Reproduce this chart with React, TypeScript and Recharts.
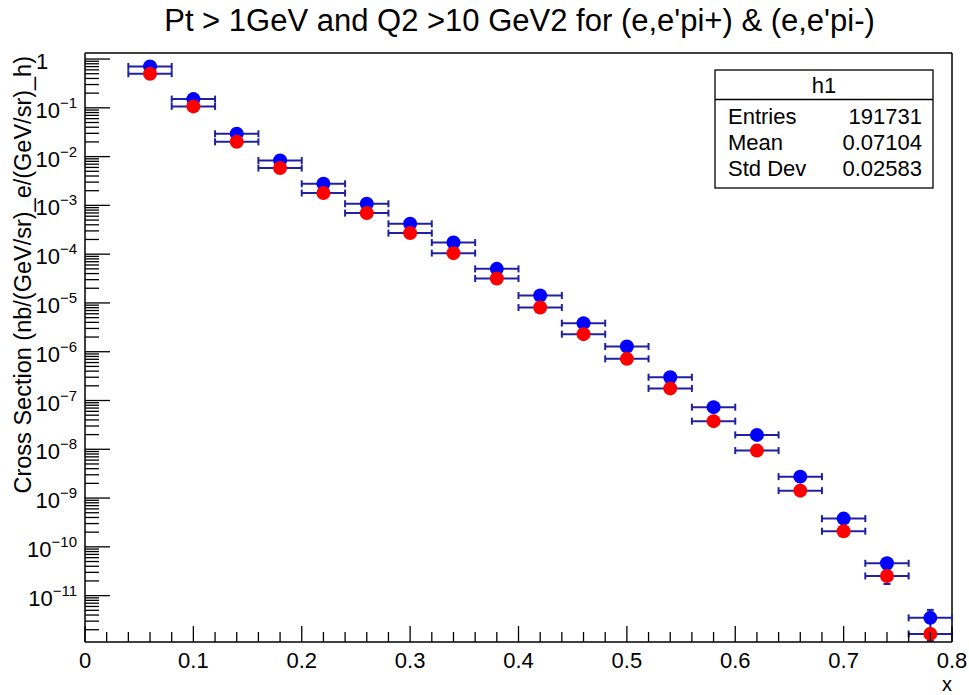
import { ScatterChart, Scatter, XAxis, YAxis, ErrorBar, ReferenceLine } from "recharts";

// bin centres in x, each bin is 0.04 wide
const binCenters = [
  0.06, 0.1, 0.14, 0.18, 0.22, 0.26, 0.3, 0.34, 0.38, 0.42, 0.46, 0.5, 0.54, 0.58, 0.62, 0.66, 0.7,
  0.74, 0.78,
];
const binHalfWidth = 0.02;

// (e,e'pi+) - blue
const piPlusXsec = [
  0.705, 0.151, 0.0294, 0.00832, 0.00277, 0.00108, 4.19e-4, 1.73e-4, 5.0e-5, 1.42e-5, 3.85e-6,
  1.28e-6, 3.0e-7, 7.3e-8, 1.97e-8, 2.75e-9, 3.79e-10, 4.6e-11, 3.5e-12,
];
const piPlusErr = [0, 0, 0, 0, 0, 0, 0, 0, 0, 0, 0, 0, 0, 0, 0, 0, 0, 0, 1.6e-12];

// (e,e'pi-) - red
const piMinusXsec = [
  0.5, 0.107, 0.0201, 0.00582, 0.00179, 6.95e-4, 2.7e-4, 1.05e-4, 3.16e-5, 8.05e-6, 2.29e-6,
  7.14e-7, 1.77e-7, 3.77e-8, 9.4e-9, 1.42e-9, 2.09e-10, 2.53e-11, 1.64e-12,
];
const piMinusErr = [0, 0, 0, 0, 0, 0, 0, 0, 0, 0, 0, 0, 0, 0, 0, 0, 0, 0.8e-11, 0.45e-12];

const xMajorTicks = [0, 0.1, 0.2, 0.3, 0.4, 0.5, 0.6, 0.7, 0.8];
const yMajorTicks = [1, 1e-1, 1e-2, 1e-3, 1e-4, 1e-5, 1e-6, 1e-7, 1e-8, 1e-9, 1e-10, 1e-11];

const statsLabels = ["Entries", "Mean", "Std Dev"];
const statsValues = ["191731", "0.07104", "0.02583"];

const Y_MIN = 1.12e-12;
const Y_MAX = 1.33;
const FONT = '"Liberation Sans", Arial, Helvetica, sans-serif';
const BAR_COLOR = "#2020a0";

const toRows = (ys: number[], errs: number[]) =>
  binCenters.map((x, i) => ({ x, y: ys[i], ex: binHalfWidth, ey: errs[i] }));

const plusRows = toRows(piPlusXsec, piPlusErr);
const minusRows = toRows(piMinusXsec, piMinusErr);

// minor ticks: every 0.02 on x, 2..9 x 10^n on y
const xTicks: number[] = [];
for (let i = 0; i <= 40; i++) xTicks.push(Math.round(i * 2) / 100);

const yTicks: number[] = [...yMajorTicks];
for (let e = 0; e >= -12; e--) {
  for (let m = 2; m <= 9; m++) {
    const v = m * Math.pow(10, e);
    if (v >= Y_MIN && v <= Y_MAX) yTicks.push(v);
  }
}

const isMajorY = (v: number) => {
  const l = Math.log10(v);
  return Math.abs(l - Math.round(l)) < 1e-6;
};

const YTick = (props: any) => {
  const { x, y, payload } = props;
  const v = payload.value;
  const major = isMajorY(v);
  const e = Math.round(Math.log10(v));
  return (
    <g>
      <line x1={x} x2={x + (major ? 25 : 14)} y1={y} y2={y} stroke="#000" strokeWidth={1.3} />
      {major && e === 0 && (
        <text x={x - 49} y={y + 10} fontSize={22} fontFamily={FONT} fill="#000">
          1
        </text>
      )}
      {major && e !== 0 && (
        <text x={x - 8} y={y + 10} textAnchor="end" fontSize={22} fontFamily={FONT} fill="#000">
          10
          <tspan dy={-10} fontSize={15}>
            {"\u2212" + Math.abs(e)}
          </tspan>
        </text>
      )}
    </g>
  );
};

const XTick = (props: any) => {
  const { x, y, payload } = props;
  const v = payload.value;
  const major = xMajorTicks.some((t) => Math.abs(t - v) < 1e-6);
  return (
    <g>
      <line x1={x} x2={x} y1={y} y2={y - (major ? 16 : 10)} stroke="#000" strokeWidth={1.3} />
      {major && (
        <text x={x} y={y + 25.5} textAnchor="middle" fontSize={22} fontFamily={FONT} fill="#000">
          {String(Math.round(v * 10) / 10)}
        </text>
      )}
    </g>
  );
};

const marker = (color: string) => (p: any) => <circle cx={p.cx} cy={p.cy} r={7} fill={color} />;
const noMarker = () => <g />;

export default function App() {
  return (
    <div
      style={{
        position: "absolute",
        left: 0,
        top: 0,
        width: 969,
        height: 695,
        background: "#fff",
        fontFamily: FONT,
      }}
    >
      <ScatterChart width={969} height={695} margin={{ top: 53, right: 17, bottom: 0, left: 0 }}>
        <XAxis
          type="number"
          dataKey="x"
          domain={[0, 0.8]}
          ticks={xTicks}
          interval={0}
          height={53}
          tickSize={0}
          tickMargin={0}
          tickLine={false}
          tick={<XTick />}
          axisLine={{ stroke: "#000", strokeWidth: 1.5 }}
          allowDataOverflow
          label={{
            content: () => (
              <text x={952} y={690.5} textAnchor="end" fontSize={20} fontFamily={FONT} fill="#000">
                x
              </text>
            ),
          }}
        />
        <YAxis
          type="number"
          dataKey="y"
          scale="log"
          domain={[Y_MIN, Y_MAX]}
          ticks={yTicks}
          interval={0}
          width={85}
          tickSize={0}
          tickMargin={0}
          tickLine={false}
          tick={<YTick />}
          axisLine={{ stroke: "#000", strokeWidth: 1.5 }}
          allowDataOverflow
          label={{
            content: () => (
              <text
                transform="translate(31,56) rotate(-90)"
                textAnchor="end"
                fontSize={23.5}
                fontFamily={FONT}
                fill="#000"
              >
                Cross Section (nb/(GeV/sr)_e/(GeV/sr)_h)
              </text>
            ),
          }}
        />
        <ReferenceLine y={Y_MAX} stroke="#000" strokeWidth={1.5} />
        <ReferenceLine x={0.8} stroke="#000" strokeWidth={1.5} />

        <Scatter data={plusRows} shape={noMarker} isAnimationActive={false}>
          <ErrorBar direction="x" dataKey="ex" width={3.5} stroke={BAR_COLOR} strokeWidth={2} />
          <ErrorBar direction="y" dataKey="ey" width={3.5} stroke={BAR_COLOR} strokeWidth={2} />
        </Scatter>
        <Scatter data={plusRows} shape={marker("#0000ff")} isAnimationActive={false} />
        <Scatter data={minusRows} shape={noMarker} isAnimationActive={false}>
          <ErrorBar direction="x" dataKey="ex" width={3.5} stroke={BAR_COLOR} strokeWidth={2} />
          <ErrorBar direction="y" dataKey="ey" width={3.5} stroke={BAR_COLOR} strokeWidth={2} />
        </Scatter>
        <Scatter data={minusRows} shape={marker("#ff0000")} isAnimationActive={false} />
      </ScatterChart>

      <svg
        width={969}
        height={695}
        style={{ position: "absolute", left: 0, top: 0, pointerEvents: "none" }}
      >
        <text x={519.5} y={31} textAnchor="middle" fontSize={31} fontFamily={FONT} fill="#000">
          Pt &gt; 1GeV and Q2 &gt;10 GeV2 for (e,e'pi+) &amp; (e,e'pi-)
        </text>
        <rect x={715} y={70} width={218} height={118} fill="#fff" stroke="#000" strokeWidth={1.3} />
        <line x1={715} x2={933} y1={99.5} y2={99.5} stroke="#000" strokeWidth={1.3} />
        <text x={824} y={93} textAnchor="middle" fontSize={22} fontFamily={FONT} fill="#000">
          h1
        </text>
        {statsLabels.map((l, i) => (
          <g key={l}>
            <text x={728} y={123.5 + i * 26} fontSize={22} fontFamily={FONT} fill="#000">
              {l}
            </text>
            <text x={922} y={123.5 + i * 26} textAnchor="end" fontSize={22} fontFamily={FONT} fill="#000">
              {statsValues[i]}
            </text>
          </g>
        ))}
      </svg>
    </div>
  );
}
